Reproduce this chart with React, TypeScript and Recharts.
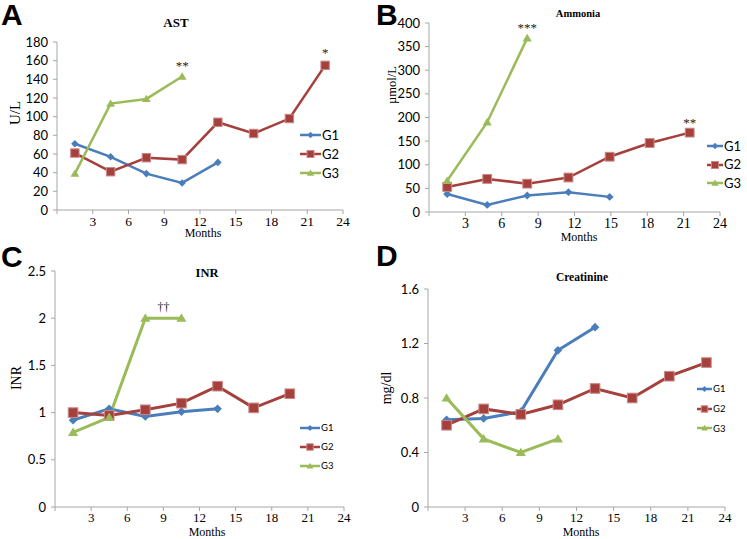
import React from 'react';
import { LineChart, Line, XAxis, YAxis, ReferenceDot } from 'recharts';

// month positions of the visits
const monthsA = [1.5, 4.5, 7.5, 10.5, 13.5, 16.5, 19.5, 22.5];
const monthsB = [1.5, 4.8, 8.1, 11.5, 14.9, 18.2, 21.5];
const monthTicks = [0, 3, 6, 9, 12, 15, 18, 21, 24];

const groups = ['G1', 'G2', 'G3'];

// AST (U/L)
const astG1 = [71, 57, 39, 29, 51];
const astG2 = [61, 41, 56, 54, 94, 82, 98, 155];
const astG3 = [39, 114, 119, 143];
const astTicks = [0, 20, 40, 60, 80, 100, 120, 140, 160, 180];
const astMarks = [
  { x: 10.5, y: 155, text: '**' },
  { x: 22.5, y: 169, text: '*' },
];

// Ammonia (µmol/L)
const nh3G1 = [38, 15, 35, 42, 32];
const nh3G2 = [53, 70, 60, 73, 117, 146, 168];
const nh3G3 = [66, 190, 368];
const nh3Ticks = [0, 50, 100, 150, 200, 250, 300, 350, 400];
const nh3Marks = [
  { x: 8.1, y: 390, text: '***' },
  { x: 21.5, y: 190, text: '**' },
];

// INR
const inrG1 = [0.92, 1.04, 0.96, 1.01, 1.04];
const inrG2 = [1.0, 0.97, 1.03, 1.1, 1.28, 1.05, 1.2];
const inrG3 = [0.79, 0.95, 2.0, 2.0];
const inrTicks = [0, 0.5, 1, 1.5, 2, 2.5];
const inrMarks = [{ x: 9, y: 2.12, text: '††' }];

// Creatinine (mg/dl)
const creG1 = [0.64, 0.65, 0.7, 1.15, 1.32];
const creG2 = [0.6, 0.72, 0.68, 0.75, 0.87, 0.8, 0.96, 1.06];
const creG3 = [0.8, 0.5, 0.4, 0.5];
const creTicks = [0, 0.4, 0.8, 1.2, 1.6];

const SERIF = '"Liberation Serif", "Times New Roman", serif';
const SANS = 'Lato, "Open Sans", sans-serif';
const ARIAL = '"Liberation Sans", Arial, sans-serif';
const AXIS = '#A6A6A6';

const STYLE: Record<string, { color: string; kind: string }> = {
  G1: { color: '#4A7EBB', kind: 'diamond' },
  G2: { color: '#A5403D', kind: 'square' },
  G3: { color: '#9BBB59', kind: 'triangle' },
};

const toPts = (xs: number[], ys: number[]) => ys.map((y, i) => ({ x: xs[i], y }));

function Marker({ kind, cx, cy, s, color }: any) {
  if (cx == null || cy == null) return null;
  if (kind === 'diamond') {
    const d = s * 0.9;
    return <path d={`M${cx},${cy - d}L${cx + d},${cy}L${cx},${cy + d}L${cx - d},${cy}Z`} fill={color} />;
  }
  if (kind === 'square') {
    return <rect x={cx - s} y={cy - s} width={s * 2} height={s * 2} fill={color} stroke="#C98886" strokeWidth={1} />;
  }
  return <path d={`M${cx},${cy - s}L${cx + s * 1.05},${cy + s * 0.75}L${cx - s * 1.05},${cy + s * 0.75}Z`} fill={color} />;
}

const MonthTick = (size: number) => (p: any) => (
  <text x={p.x} y={p.y} dy="0.72em" textAnchor="middle" fill="#000" fontSize={size} fontFamily={SERIF}>
    {p.payload.value === 0 ? '' : p.payload.value}
  </text>
);

function Panel({ box, plot, yMax, yTicks, series, marks, xFont, yFont, markSize, lineW, markFont }: any) {
  return (
    <div style={{ position: 'absolute', left: box.left, top: box.top }}>
      <LineChart
        width={box.width}
        height={box.height}
        margin={{ top: plot.y0 - box.top, right: box.left + box.width - plot.x1, bottom: 0, left: 0 }}
      >
        <XAxis
          type="number"
          dataKey="x"
          domain={[0, 24]}
          ticks={monthTicks}
          interval={0}
          height={box.top + box.height - plot.y1}
          stroke={AXIS}
          tickSize={4}
          tickMargin={2}
          tick={MonthTick(xFont)}
        />
        <YAxis
          type="number"
          dataKey="y"
          domain={[0, yMax]}
          ticks={yTicks}
          interval={0}
          width={plot.x0 - box.left}
          stroke={AXIS}
          tickSize={4}
          tickMargin={5}
          tick={{ fill: '#000', fontSize: yFont, fontFamily: SANS }}
        />
        {series.map((s: any) => (
          <Line
            key={s.name}
            data={s.data}
            dataKey="y"
            stroke={STYLE[s.name].color}
            strokeWidth={lineW}
            isAnimationActive={false}
            dot={(p: any) => (
              <Marker key={`${s.name}-${p.index}`} kind={STYLE[s.name].kind} cx={p.cx} cy={p.cy} s={markSize} color={STYLE[s.name].color} />
            )}
            activeDot={false}
          />
        ))}
        {marks.map((m: any) => (
          <ReferenceDot
            key={m.text + m.x}
            x={m.x}
            y={m.y}
            r={0}
            fill="none"
            stroke="none"
            label={{ value: m.text, position: 'center', fill: '#222', fontSize: markFont, fontFamily: SERIF }}
          />
        ))}
      </LineChart>
    </div>
  );
}

function GroupLegend({ x, y, gap, lineLen, fontSize, s }: any) {
  return (
    <>
      {groups.map((g, i) => (
        <div
          key={g}
          style={{ position: 'absolute', left: x, top: y + i * gap - 8, height: 16, display: 'flex', alignItems: 'center' }}
        >
          <svg width={lineLen} height={16}>
            <line x1={0} y1={8} x2={lineLen} y2={8} stroke={STYLE[g].color} strokeWidth={2.5} />
            <Marker kind={STYLE[g].kind} cx={lineLen / 2} cy={8} s={s} color={STYLE[g].color} />
          </svg>
          <span style={{ fontFamily: SANS, fontSize, marginLeft: 1, lineHeight: 1, color: '#000' }}>{g}</span>
        </div>
      ))}
    </>
  );
}

function CText({ x, y, text, font, size, bold, rotate }: any) {
  return (
    <div
      style={{
        position: 'absolute',
        left: x,
        top: y,
        transform: `translate(-50%, -50%)${rotate ? ' rotate(-90deg)' : ''}`,
        fontFamily: font,
        fontSize: size,
        fontWeight: bold ? 'bold' : 'normal',
        whiteSpace: 'nowrap',
        lineHeight: 1,
        color: '#000',
      }}
    >
      {text}
    </div>
  );
}

function Letter({ x, y, text }: any) {
  return (
    <div style={{ position: 'absolute', left: x, top: y, fontFamily: ARIAL, fontWeight: 'bold', fontSize: 30, lineHeight: 1 }}>
      {text}
    </div>
  );
}

export default function App() {
  return (
    <div style={{ position: 'absolute', left: 0, top: 0, width: 747, height: 539, background: '#fff', overflow: 'hidden' }}>
      <Panel
        box={{ left: 0, top: 0, width: 373, height: 245 }}
        plot={{ x0: 57, x1: 343, y0: 42, y1: 210 }}
        yMax={180}
        yTicks={astTicks}
        series={[
          { name: 'G1', data: toPts(monthsA, astG1) },
          { name: 'G2', data: toPts(monthsA, astG2) },
          { name: 'G3', data: toPts(monthsA, astG3) },
        ]}
        marks={astMarks}
        xFont={13.5}
        yFont={13}
        markSize={4.2}
        lineW={2.5}
        markFont={13}
      />
      <Panel
        box={{ left: 373, top: 0, width: 374, height: 245 }}
        plot={{ x0: 429, x1: 720, y0: 23, y1: 212 }}
        yMax={400}
        yTicks={nh3Ticks}
        series={[
          { name: 'G1', data: toPts(monthsB, nh3G1) },
          { name: 'G2', data: toPts(monthsB, nh3G2) },
          { name: 'G3', data: toPts(monthsB, nh3G3) },
        ]}
        marks={nh3Marks}
        xFont={14}
        yFont={13}
        markSize={4.4}
        lineW={2.5}
        markFont={13}
      />
      <Panel
        box={{ left: 0, top: 245, width: 373, height: 294 }}
        plot={{ x0: 55, x1: 344, y0: 271, y1: 507 }}
        yMax={2.5}
        yTicks={inrTicks}
        series={[
          { name: 'G1', data: toPts(monthsA, inrG1) },
          { name: 'G2', data: toPts(monthsA, inrG2) },
          { name: 'G3', data: toPts(monthsA, inrG3) },
        ]}
        marks={inrMarks}
        xFont={13}
        yFont={13}
        markSize={4.8}
        lineW={3}
        markFont={12}
      />
      <Panel
        box={{ left: 373, top: 245, width: 374, height: 294 }}
        plot={{ x0: 428, x1: 725, y0: 289, y1: 507 }}
        yMax={1.6}
        yTicks={creTicks}
        series={[
          { name: 'G1', data: toPts(monthsA, creG1) },
          { name: 'G2', data: toPts(monthsA, creG2) },
          { name: 'G3', data: toPts(monthsA, creG3) },
        ]}
        marks={[]}
        xFont={13}
        yFont={13}
        markSize={4.8}
        lineW={3}
        markFont={12}
      />

      <Letter x={1} y={0} text="A" />
      <Letter x={376} y={0} text="B" />
      <Letter x={1} y={242} text="C" />
      <Letter x={376} y={241} text="D" />

      <CText x={176} y={22} text="AST" font={SERIF} size={13} bold />
      <CText x={578} y={14} text="Ammonia" font={SERIF} size={10.5} bold />
      <CText x={207} y={273} text="INR" font={SERIF} size={12.5} bold />
      <CText x={582} y={278} text="Creatinine" font={SERIF} size={11.5} bold />

      <CText x={203} y={233} text="Months" font={SERIF} size={12} />
      <CText x={579} y={237} text="Months" font={SERIF} size={12} />
      <CText x={207} y={532} text="Months" font={SERIF} size={12} />
      <CText x={581} y={532} text="Months" font={SERIF} size={12} />

      <CText x={15} y={113} text="U/L" font={SERIF} size={15} rotate />
      <CText x={392} y={85} text="µmol/L" font={SERIF} size={12.5} rotate />
      <CText x={17} y={378} text="INR" font={SERIF} size={14} rotate />
      <CText x={387} y={388} text="mg/dl" font={SERIF} size={14} rotate />

      <GroupLegend x={300} y={135} gap={19} lineLen={21} fontSize={13} s={3.5} />
      <GroupLegend x={707} y={146} gap={18.5} lineLen={16} fontSize={13} s={3.5} />
      <GroupLegend x={300} y={428} gap={19} lineLen={20} fontSize={9.5} s={3.2} />
      <GroupLegend x={697} y={389} gap={19.7} lineLen={15} fontSize={9.5} s={3.2} />
    </div>
  );
}
